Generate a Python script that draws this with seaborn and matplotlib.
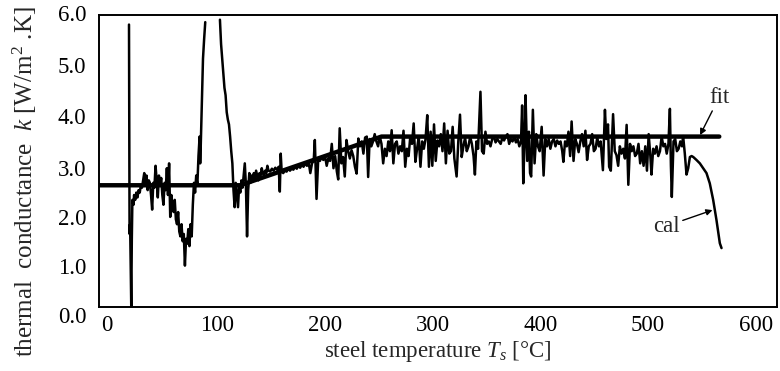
import numpy as np
import pandas as pd
import matplotlib
matplotlib.use("Agg")
import matplotlib.pyplot as plt
import matplotlib.transforms as mtransforms
import seaborn as sns

# ---------------- data ----------------
# calculated thermal conductance, (T [°C], k) pairs, split into segments
cal_start = [
    (26.5, 5.80), (27.0, 1.50), (27.5, 1.70), (28.5, 0.00), (29.0, 1.40),
    (29.5, 2.20), (30.5, 2.10), (31.0, 2.30), (32, 2.20), (33, 2.35),
    (34, 2.25), (35, 2.40), (36, 2.35), (37, 2.50), (38, 2.45), (39, 2.60),
    (40, 2.75), (41, 2.50), (42, 2.70), (43, 2.40), (44, 2.60), (45, 2.55),
    (46, 2.30), (47, 2.00), (48, 2.55), (49, 2.45), (50, 2.90), (51, 2.60),
    (52, 2.25), (53, 2.70), (54, 2.50), (55, 2.65), (56, 2.30), (57, 2.10),
    (58, 2.55), (59, 2.40), (60, 2.85), (61, 2.30), (62, 2.95), (63, 1.85),
    (64, 2.30), (65, 2.10), (66, 1.95), (67, 2.20), (68, 1.80), (69, 1.70),
    (70, 1.95), (71, 1.55), (72, 1.45), (73, 1.70), (74, 1.35), (75, 1.50),
    (76, 0.85), (77, 1.40), (78, 1.30), (79, 1.60), (80, 1.25), (81, 1.70),
    (82, 1.45), (83, 2.10), (84, 2.55), (85, 2.35), (86, 2.70), (87, 2.50),
    (88, 3.10), (89, 3.50), (89.5, 2.95), (90, 3.30), (91, 4.20), (92, 5.10),
    (93, 5.50), (94, 5.85),
]
cal_peak_down = [
    (107, 5.90), (108, 5.40), (109, 5.10), (110, 4.80), (111, 4.50),
    (112, 4.35), (113, 4.00), (114, 3.85), (115, 3.75), (116, 3.50),
    (117, 3.20), (118, 2.95), (119, 2.40), (120, 2.05), (121, 2.55),
    (122, 2.30), (123, 2.05), (124, 2.50), (125, 2.35), (126, 2.60),
    (127, 2.45), (128, 2.70), (129, 2.95), (130, 2.50), (131, 1.45),
    (132, 2.40), (133, 2.75), (134, 2.55), (135, 2.70), (136, 2.60),
    (137, 2.75), (138, 2.65), (139, 2.80), (140, 2.70), (141, 2.60),
    (142, 2.75), (143, 2.70), (144, 2.85), (145, 2.75), (146, 2.70),
    (147, 2.80), (148, 2.75), (149, 2.90), (150, 2.80), (151.5, 2.78),
    (153, 2.84), (154.5, 2.80), (156, 2.86), (157.5, 2.82), (159, 2.88),
]
cal_rise = [
    (160, 2.37), (160.8, 3.15), (161.6, 2.80), (163, 2.75), (164.5, 2.80),
    (166, 2.78), (167.5, 2.85), (169, 2.80), (170.5, 2.84), (172, 2.82),
    (173.5, 2.88), (175, 2.84), (176.5, 2.90), (178, 2.86), (179.5, 2.92),
    (181, 2.88), (182.5, 2.95), (184, 2.90), (185.5, 2.98), (187, 2.75),
    (188.5, 2.95), (190, 3.00), (191, 3.43), (192.5, 2.22), (194, 3.05),
    (195.5, 3.00), (197, 3.08), (198.5, 3.02), (200, 3.10), (201.5, 2.90),
    (203, 3.06), (204.5, 3.00), (206, 3.35), (207.5, 2.85), (209, 3.10),
    (210.5, 2.78), (211.7, 2.62), (213, 3.67), (214.5, 2.95), (216, 3.08),
    (217.5, 2.68), (219, 3.43), (220.5, 3.20), (222, 3.05), (223.5, 3.22),
    (225, 3.10), (226.5, 2.88), (228, 2.74), (229.5, 3.46), (231, 3.30),
    (232.5, 3.40), (234, 3.15), (235.5, 3.48), (237, 3.50), (238.2, 2.67),
    (239.5, 3.45), (241, 3.30), (242.5, 3.40), (244, 3.55), (245.5, 3.40),
    (247, 3.30), (248.5, 3.50),
]
cal_plateau = [
    (250, 3.35), (251.5, 2.95), (253, 3.25), (254.5, 3.10), (256, 3.40),
    (257.5, 3.20), (259, 3.63), (260.5, 2.95), (262, 3.35), (263.5, 3.40),
    (265, 3.15), (266.5, 3.30), (268, 3.20), (269.5, 3.62), (271, 2.88),
    (272.5, 3.25), (274, 3.10), (275.5, 3.50), (277, 3.35), (278.5, 3.77),
    (280, 2.98), (281.5, 3.25), (283, 3.50), (284.5, 2.88), (286, 3.40),
    (287.5, 3.25), (289, 3.45), (290.5, 3.94), (292, 2.88), (293.5, 3.60),
    (295, 2.90), (296.5, 3.75), (298, 3.00), (299.5, 3.42), (301, 3.30),
    (302.5, 3.55), (304, 3.20), (305.5, 3.77), (307, 2.95), (308.5, 3.62),
    (310, 3.15), (311.5, 3.20), (313, 3.70), (314.5, 3.05), (316.5, 2.68),
    (318, 3.40), (319.5, 3.95), (321, 3.08), (322.5, 3.30), (324, 3.48),
    (325.5, 3.20), (327, 3.30), (328.5, 3.50), (330, 3.35), (331.5, 3.10),
    (332.7, 2.72), (334, 3.40), (335.5, 3.25), (337.6, 4.42), (339, 3.20),
    (340.5, 3.15), (342, 3.60), (343.5, 3.35), (345, 3.40), (346.5, 3.30),
    (348, 3.45), (349.5, 3.50), (351, 3.38), (352.5, 3.45), (354, 3.40),
    (355.5, 3.35), (357, 3.48), (358.5, 3.42), (360, 3.50), (361.5, 3.55),
    (363, 3.35), (364.5, 3.45), (366, 3.40), (367.5, 3.50), (369, 3.38),
    (370.5, 3.45), (372, 3.30), (373.5, 3.40), (374.5, 4.14), (375.5, 2.54),
    (376.5, 3.30), (377.5, 4.35), (379, 3.00), (380.5, 3.60), (381.5, 2.75),
    (382.5, 2.68), (384, 4.05), (385.5, 2.95), (387, 3.55), (388.5, 3.30),
    (390, 3.20), (391.8, 3.70), (393.5, 2.70), (395, 3.45), (396.5, 3.30),
    (398, 3.45), (399.5, 3.25), (401, 3.40), (402.5, 3.45), (404, 3.30),
    (405.5, 3.42), (407, 3.35), (408.5, 3.40), (410, 3.20), (411, 2.98),
    (412.5, 3.40), (414, 3.30), (415.5, 3.60), (417, 3.10), (418.3, 3.81),
    (420, 3.00), (421.5, 3.45), (423, 3.35), (424.5, 3.18), (426, 3.40),
    (427.5, 3.55), (429, 3.30), (430.5, 3.62), (432, 3.02), (433.5, 3.30),
    (435, 3.35), (436.5, 3.55), (438, 3.20), (439.5, 3.25), (441, 3.48),
    (442.5, 3.30), (444, 3.40), (446, 2.81), (447.8, 4.05), (449, 3.45),
    (450.5, 3.75), (451.5, 2.88), (453, 2.80), (455, 3.96), (456.5, 3.20),
    (458, 3.12), (459.5, 2.90), (461, 3.30), (462.5, 3.15), (464, 3.25),
    (465.5, 3.05), (467, 3.74), (468.5, 2.51), (470, 3.35), (471.5, 3.20),
    (473, 3.30), (474.5, 3.10), (476, 3.15), (477.5, 3.35), (479, 2.95),
    (480.5, 3.20), (482, 2.90), (483.5, 3.30), (485, 2.80), (486.5, 3.55),
    (488, 3.10), (489, 2.72), (490.5, 3.25), (492, 3.15), (493.5, 3.30),
    (495, 3.10), (496.5, 3.20), (498, 3.50), (499.5, 3.30), (501, 3.35),
    (502.5, 3.15), (504, 3.35), (505.3, 4.07), (506.2, 2.90), (507, 2.26),
    (508.5, 3.40), (510, 3.45), (511.5, 3.20), (513, 3.25), (514.5, 3.40),
    (516, 3.30), (517, 3.51), (518.5, 3.15), (520, 2.72), (521.5, 2.85),
    (523, 3.08),
]
cal_tail = [
    (524.5, 3.10), (526, 3.08), (528.8, 3.02), (531.8, 2.95), (534.7, 2.85),
    (537.7, 2.75), (540.6, 2.54), (543.6, 2.20), (546.5, 1.79), (549.5, 1.31),
    (551, 1.21),
]

# fitted conductance
fit_T = [0, 125, 250, 549]
fit_k = [2.5, 2.5, 3.5, 3.5]

x_ticks = [0, 100, 200, 300, 400, 500, 600]
y_ticks = [0.0, 1.0, 2.0, 3.0, 4.0, 5.0, 6.0]

# ---------------- build tables ----------------
seg1 = pd.DataFrame(cal_start, columns=["T", "k"]).assign(seg=0)
seg2 = pd.DataFrame(cal_peak_down + cal_rise + cal_plateau + cal_tail,
                    columns=["T", "k"]).assign(seg=1)
cal_df = pd.concat([seg1, seg2], ignore_index=True)
fit_df = pd.DataFrame({"T": fit_T, "k": fit_k})

# ---------------- style ----------------
sns.set_style("white")
plt.rcParams["font.family"] = ["Liberation Serif", "DejaVu Serif"]
plt.rcParams["mathtext.fontset"] = "custom"
plt.rcParams["mathtext.rm"] = "Liberation Serif"
plt.rcParams["mathtext.it"] = "Liberation Serif:italic"

FS = 16.5
fig = plt.figure(figsize=(7.8, 3.71), dpi=100)
ax = fig.add_axes([0.127, 0.1725, 0.869, 0.7875])

sns.lineplot(data=fit_df, x="T", y="k", ax=ax, color="black", lw=3.2,
             estimator=None, sort=False)
sns.lineplot(data=cal_df, x="T", y="k", units="seg", ax=ax, color="black",
             lw=1.8, estimator=None, sort=False)

ax.set_xlim(0, 600)
ax.set_ylim(0, 6)
ax.set_xticks(x_ticks)
ax.set_xticklabels([str(v) for v in x_ticks])
ax.set_yticks(y_ticks)
ax.set_yticklabels([f"{v:.1f}" for v in y_ticks])
ax.tick_params(axis="both", labelsize=FS, direction="in", length=3,
               width=0.8, colors="black")
ax.tick_params(axis="x", pad=6)
ax.tick_params(axis="y", pad=9)
for s in ax.spines.values():
    s.set_visible(True)
    s.set_color("black")
    s.set_linewidth(1.4)

ax.set_xlabel(r"steel temperature $T_s$ [°C]", fontsize=FS, labelpad=2)
ax.set_ylabel(r"thermal  conductance  $k$ [W/m$^{2}$ .K]", fontsize=18)
ax.yaxis.set_label_coords(-0.089, 0.43)

# small per-label shifts (pixels) so the tick labels sit where the scan has them
x_shift_px = [8, 5, 0, -5, -10, -16, -21]
y_shift_px = [8, 8, 7.5, 7, 4, 1, -2]
for tick, dx in zip(ax.xaxis.get_major_ticks(), x_shift_px):
    lab = tick.label1
    lab.set_transform(lab.get_transform() + mtransforms.ScaledTranslation(
        dx / 100, 0, fig.dpi_scale_trans))
for tick, dy in zip(ax.yaxis.get_major_ticks(), y_shift_px):
    lab = tick.label1
    lab.set_transform(lab.get_transform() + mtransforms.ScaledTranslation(
        0, -dy / 100, fig.dpi_scale_trans))

arrow = dict(arrowstyle="-|>", color="black", lw=1.0, mutation_scale=9,
             shrinkA=0, shrinkB=0)
ax.annotate("fit", xy=(532, 3.53), xytext=(549, 4.31), fontsize=FS,
            ha="center", va="center", arrowprops=arrow)
ax.annotate("cal", xy=(543, 1.99), xytext=(502, 1.66), fontsize=FS,
            ha="center", va="center", arrowprops=arrow)

fig.savefig("out.png", dpi=100)
